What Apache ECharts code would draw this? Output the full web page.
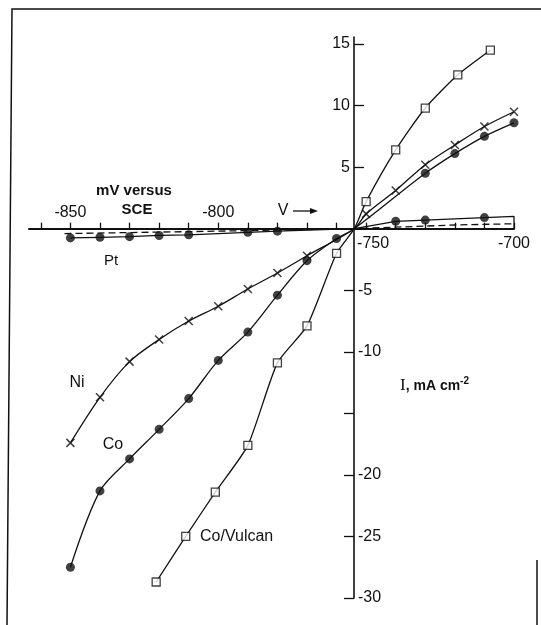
<!DOCTYPE html>
<html><head><meta charset="utf-8">
<script src="https://cdn.jsdelivr.net/npm/echarts@6/dist/echarts.min.js"></script>
<style>html,body{margin:0;padding:0;background:#fff}#c{width:541px;height:625px}</style>
</head><body><div id="c"></div>
<script>
// ---- data (mV versus SCE, current density mA cm^-2) ----
const restPotential = -754;              // all curves cross zero current here
const xTickValues = [-860,-850,-840,-830,-820,-810,-800,-790,-780,-770,-760,-750,-740,-730,-720,-710,-700];
const xLabelsAbove = [-850,-800];
const xLabelsBelow = [-750,-700];
const yTicksUpper = [5,10,15];
const yLabelsUpper = [5,10,15];
const yTicksLower = [-5,-10,-15,-20,-25,-30];
const yLabelsLower = [-5,-10,-20,-25,-30];

const ptMv = [-850,-840,-830,-820,-810,-790,-780,-740,-730,-710];
const ptI  = [-0.75,-0.7,-0.65,-0.55,-0.5,-0.3,-0.2,0.6,0.7,0.9];
const ptEndMv = [-700,-700];
const ptEndI  = [1.0,0];
const ptDashMv = [-852,-800,-720,-700];
const ptDashI  = [-0.4,-0.2,0.3,0.4];

const niMv = [-850,-840,-830,-820,-810,-800,-790,-780,-770,-750,-740,-730,-720,-710,-700];
const niI  = [-17.4,-13.7,-10.8,-9.0,-7.5,-6.3,-4.9,-3.6,-2.2,1.2,3.1,5.2,6.8,8.3,9.5];

const coMv = [-850,-840,-830,-820,-810,-800,-790,-780,-770,-760,-730,-720,-710,-700];
const coI  = [-27.5,-21.3,-18.7,-16.3,-13.8,-10.7,-8.4,-5.4,-2.6,-0.8,4.5,6.1,7.5,8.6];

const cvMv = [-821,-811,-801,-790,-780,-770,-760,-750,-740,-730,-719,-708];
const cvI  = [-28.7,-25.0,-21.4,-17.6,-10.9,-7.9,-2.0,2.2,6.4,9.8,12.5,14.5];

// ---- helpers ----
function pts(mv, cur){ return mv.map((m,i)=>[m,cur[i]]); }
function lineData(mv, cur, extraMv, extraI){
  let p = pts(mv,cur).concat([[restPotential,0]]);
  if (extraMv) p = p.concat(pts(extraMv, extraI));
  return p.sort((a,b)=>a[0]-b[0]);
}

const X_MIN = -864, X_MAX = -700, Y_MIN = -30, Y_MAX = 15.57;
const G_TOP = 37, G_BOTTOM = 27, H = 625;
const zeroPx = G_TOP + (Y_MAX - 0) / (Y_MAX - Y_MIN) * (H - G_TOP - G_BOTTOM);

const chart = echarts.init(document.getElementById('c'), null, {renderer:'canvas'});
const FONT = 'Liberation Sans';
const black = '#111';
const lineBase = {type:'line', symbol:'none', xAxisIndex:0, yAxisIndex:0, silent:true,
  lineStyle:{color:black, width:1.3}, z:2};

const option = {
  backgroundColor:'#fff',
  animation:false,
  grid:[
    {left:29, right:27, top:G_TOP, bottom:G_BOTTOM, outerBoundsMode:'none'},          // data
    {left:354, width:100, top:G_TOP, bottom:G_BOTTOM, outerBoundsMode:'none'},        // vertical axis
    {left:29, right:27, top:G_TOP, bottom:H - zeroPx, outerBoundsMode:'none'},        // x axis, labels above
    {left:29, right:27, top:zeroPx, bottom:G_BOTTOM, outerBoundsMode:'none'}          // labels below
  ],
  xAxis:[
    {gridIndex:0, type:'value', min:X_MIN, max:X_MAX, show:false},
    {gridIndex:1, type:'value', min:0, max:1, show:false},
    {gridIndex:2, type:'value', min:X_MIN, max:X_MAX, position:'bottom',
     axisLine:{show:true, onZero:false, lineStyle:{color:black, width:2}},
     axisTick:{show:true, inside:true, length:6, customValues:xTickValues, lineStyle:{color:black, width:1.3}},
     axisLabel:{show:true, inside:true, margin:8, customValues:xLabelsAbove, color:black,
       fontFamily:FONT, fontSize:16, formatter:v=>String(v)},
     splitLine:{show:false}},
    {gridIndex:3, type:'value', min:X_MIN, max:X_MAX, position:'top',
     axisLine:{show:false, onZero:false},
     axisTick:{show:false},
     axisLabel:{show:true, inside:true, margin:7, customValues:xLabelsBelow, color:black,
       fontFamily:FONT, fontSize:16,
       formatter:v=> v===-750 ? '{a|'+v+'}' : '{b|'+v+'}',
       rich:{a:{fontFamily:FONT, fontSize:16, color:black, padding:[0,0,0,14]},
             b:{fontFamily:FONT, fontSize:16, color:black}}},
     splitLine:{show:false}}
  ],
  yAxis:[
    {gridIndex:0, type:'value', min:Y_MIN, max:Y_MAX, show:false, splitLine:{show:false}},
    {gridIndex:1, type:'value', min:Y_MIN, max:Y_MAX, position:'left',
     axisLine:{show:true, onZero:false, lineStyle:{color:black, width:1.6}},
     axisTick:{show:true, inside:true, length:10, customValues:yTicksUpper, lineStyle:{color:black, width:1.3}},
     axisLabel:{show:true, margin:4, customValues:yLabelsUpper, color:black, fontFamily:FONT, fontSize:16},
     splitLine:{show:false}},
    {gridIndex:1, type:'value', min:Y_MIN, max:Y_MAX, position:'left', offset:0,
     axisLine:{show:false, onZero:false},
     axisTick:{show:true, inside:false, length:10, customValues:yTicksLower, lineStyle:{color:black, width:1.3}},
     axisLabel:{show:true, inside:true, margin:4, customValues:yLabelsLower, color:black, fontFamily:FONT, fontSize:16},
     splitLine:{show:false}},
    {gridIndex:2, type:'value', min:0, max:1, show:false},
    {gridIndex:3, type:'value', min:0, max:1, show:false}
  ],
  series:[
    Object.assign({}, lineBase, {name:'Pt', data:lineData(ptMv, ptI, ptEndMv, ptEndI)}),
    Object.assign({}, lineBase, {name:'Pt dashed', data:lineData(ptDashMv, ptDashI),
      lineStyle:{color:black, width:1.3, type:[7,4]}}),
    Object.assign({}, lineBase, {name:'Ni', smooth:0.3, data:lineData(niMv, niI)}),
    Object.assign({}, lineBase, {name:'Co', smooth:0.3, data:lineData(coMv, coI)}),
    Object.assign({}, lineBase, {name:'Co/Vulcan', smooth:0.2, data:lineData(cvMv, cvI)}),
    {type:'scatter', name:'Pt pts', data:pts(ptMv, ptI), symbol:'circle', symbolSize:9,
     itemStyle:{color:black}, silent:true, z:4},
    {type:'scatter', name:'Co pts', data:pts(coMv, coI), symbol:'circle', symbolSize:9,
     itemStyle:{color:black}, silent:true, z:4},
    {type:'scatter', name:'Ni pts', data:pts(niMv, niI), symbol:'path://M0,0L10,10M10,0L0,10', symbolSize:8,
     itemStyle:{color:'transparent', borderColor:black, borderWidth:1.5}, silent:true, z:4},
    {type:'scatter', name:'Co/Vulcan pts', data:pts(cvMv, cvI), symbol:'rect', symbolSize:8,
     itemStyle:{color:'#fff', borderColor:black, borderWidth:1.3}, silent:true, z:5}
  ],
  graphic:[
    {type:'polyline', shape:{points:[[7,625],[12,9],[541,9]]}, style:{stroke:black, lineWidth:1.5, fill:null}, silent:true},
    {type:'line', shape:{x1:537, y1:560, x2:537, y2:625}, style:{stroke:black, lineWidth:1.5}, silent:true},
    {type:'text', x:134, y:191, style:{text:'mV versus', fontFamily:FONT, fontWeight:'bold', fontSize:15, fill:black, align:'center', verticalAlign:'middle'}},
    {type:'text', x:137, y:210, style:{text:'SCE', fontFamily:FONT, fontWeight:'bold', fontSize:15, fill:black, align:'center', verticalAlign:'middle'}},
    {type:'text', x:283, y:211, style:{text:'V', fontFamily:FONT, fontSize:16, fill:black, align:'center', verticalAlign:'middle'}},
    {type:'line', shape:{x1:293, y1:211, x2:312, y2:211}, style:{stroke:black, lineWidth:1.3}},
    {type:'polygon', shape:{points:[[318,211],[310,208],[310,214]]}, style:{fill:black}},
    {type:'text', x:111, y:261, style:{text:'Pt', fontFamily:FONT, fontSize:15, fill:black, align:'center', verticalAlign:'middle'}},
    {type:'text', x:77, y:383, style:{text:'Ni', fontFamily:FONT, fontSize:16, fill:black, align:'center', verticalAlign:'middle'}},
    {type:'text', x:113, y:445, style:{text:'Co', fontFamily:FONT, fontSize:16, fill:black, align:'center', verticalAlign:'middle'}},
    {type:'text', x:200, y:537, style:{text:'Co/Vulcan', fontFamily:FONT, fontSize:16, fill:black, align:'left', verticalAlign:'middle'}},
    {type:'text', x:400, y:386, style:{
      text:'{i|I}{t|, mA cm}{s|-2}', verticalAlign:'middle', align:'left',
      rich:{i:{fontFamily:'Liberation Serif', fontSize:17, fill:black},
            t:{fontFamily:FONT, fontWeight:'bold', fontSize:14, fill:black},
            s:{fontFamily:FONT, fontWeight:'bold', fontSize:10, fill:black, verticalAlign:'top', padding:[0,0,10,0]}}}}
  ]
};
chart.setOption(option);
</script>
</body></html>
